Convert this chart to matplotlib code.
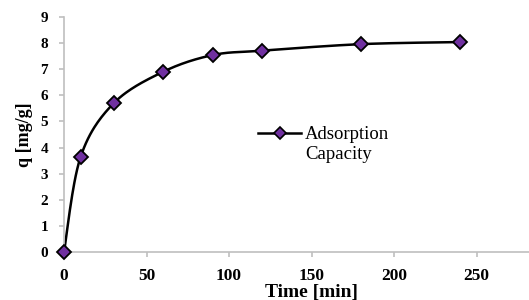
import numpy as np
import matplotlib
matplotlib.use('Agg')
from matplotlib import pyplot as plt

# donnees
time_min = [0, 10, 30, 60, 90, 120, 180, 240]
q_mg_g = [0, 3.63, 5.69, 6.90, 7.54, 7.71, 7.96, 8.04]
x_ticks = [0, 50, 100, 150, 200, 250]
y_ticks = [0, 1, 2, 3, 4, 5, 6, 7, 8, 9]

plt.rcParams['font.family'] = ['Liberation Serif', 'DejaVu Serif']

fig = plt.figure(figsize=(5.29, 3.00), dpi=100)
ax = fig.add_axes([64/529, 48/300, 495/529, 235/300])
ax.set_xlim(0, 300)
ax.set_ylim(0, 9)

# courbe lissee facon Excel (Bezier type Catmull-Rom, en coordonnees ecran)
px = np.array(time_min, float) / 300 * 495
py = np.array(q_mg_g, float) / 9 * 235
P = np.column_stack([px, py])
n = len(P)
curve = []
for i in range(n - 1):
    p0 = P[max(i - 1, 0)]
    p1 = P[i]
    p2 = P[i + 1]
    p3 = P[min(i + 2, n - 1)]
    c1 = p1 + (p2 - p0) / 6
    c2 = p2 - (p3 - p1) / 6
    t = np.linspace(0, 1, 30)[:, None]
    seg = (1-t)**3*p1 + 3*(1-t)**2*t*c1 + 3*(1-t)*t**2*c2 + t**3*p2
    curve.append(seg)
curve = np.vstack(curve)
ax.plot(curve[:, 0] / 495 * 300, curve[:, 1] / 235 * 9, color='black', lw=1.8, zorder=2)
ax.plot(time_min, q_mg_g, ls='none', marker='D', ms=7.5, mfc='#7030A0', mec='black',
        mew=1.3, zorder=3, clip_on=False)

# legende
ax.plot([], [], color='black', lw=1.8, marker='D', ms=6, mfc='#7030A0', mec='black',
        mew=1.2, label='Adsorption\nCapacity')
leg = ax.legend(loc='upper left', bbox_to_anchor=(258/529, 1 - 126/300),
                bbox_transform=fig.transFigure, frameon=False, fontsize=13.5,
                handlelength=2.3, handletextpad=0.2, borderpad=0, borderaxespad=0,
                labelspacing=0)
for hp in leg._legend_handle_box.get_children()[0].get_children():
    hp.align = 'top'

for s in ['top', 'right']:
    ax.spines[s].set_visible(False)
for s in ['left', 'bottom']:
    ax.spines[s].set_color('#BFBFBF')
    ax.spines[s].set_linewidth(1.2)

ax.set_xticks(x_ticks)
ax.set_yticks(y_ticks)
ax.tick_params(direction='out', length=3.5, width=1.2, color='#BFBFBF')
ax.tick_params(axis='x', labelsize=12.5, pad=8)
ax.tick_params(axis='y', labelsize=11, pad=8)
for lab in ax.get_xticklabels() + ax.get_yticklabels():
    lab.set_fontweight('bold')

ax.set_xlabel('Time [min]', fontsize=14, fontweight='bold', labelpad=0)
ax.set_ylabel('q [mg/g]', fontsize=13, fontweight='bold', labelpad=5)

fig.savefig('out.png', dpi=100)
